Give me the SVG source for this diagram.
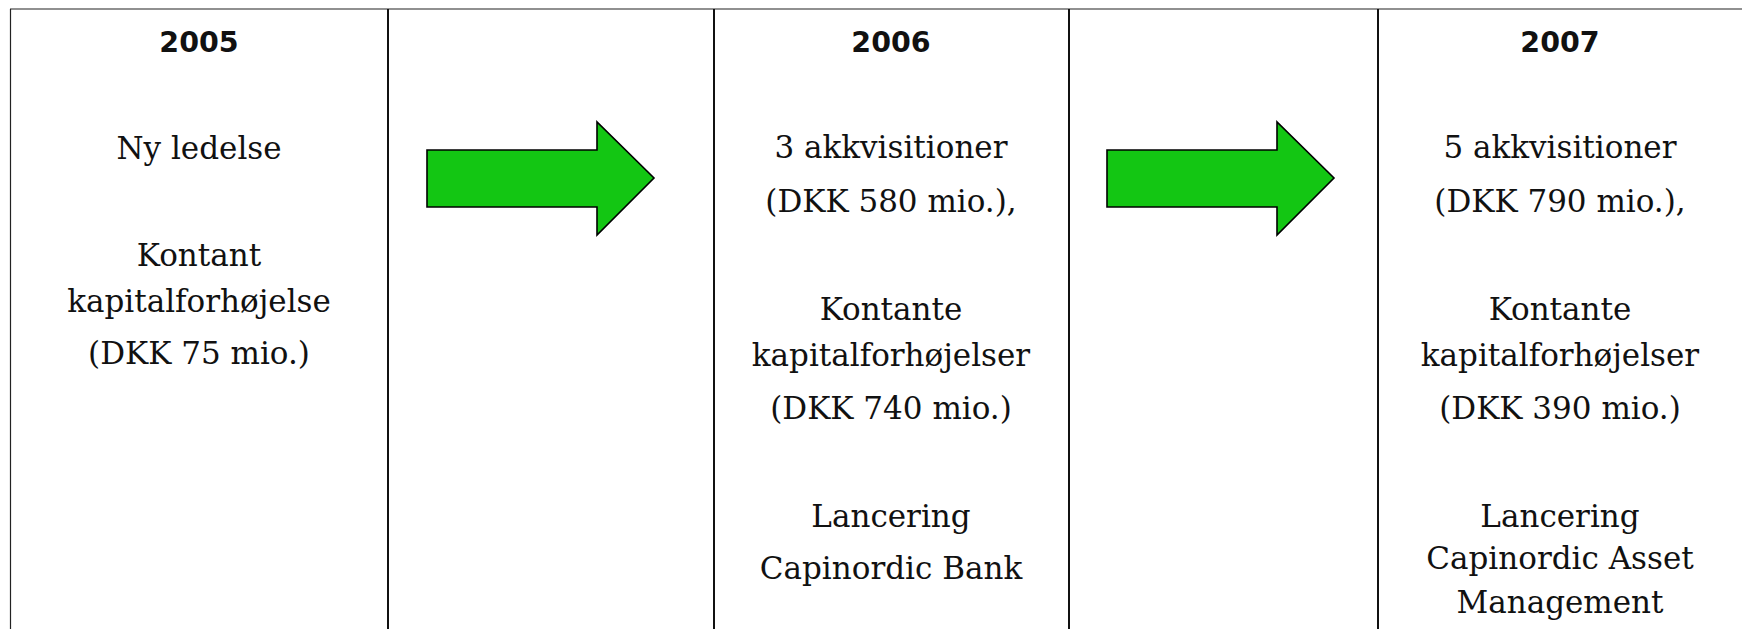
<svg xmlns="http://www.w3.org/2000/svg" width="1742" height="629" viewBox="0 0 1742 629">
<style>
.bg{fill:#ffffff}
.thin{stroke:#222;stroke-width:1.2;fill:none}
.sep{stroke:#111;stroke-width:2;fill:none}
.arrow{fill:#13c613;stroke:#000;stroke-width:1.6;stroke-linejoin:miter}
.t{font-family:"DejaVu Serif",serif;font-size:31px;fill:#111;text-anchor:middle}
.h{font-family:"DejaVu Sans",sans-serif;font-weight:bold;font-size:28.5px;fill:#111;text-anchor:middle}
</style>
<rect class="bg" x="0" y="0" width="1742" height="629"/>
<g id="grid">
<line class="thin" x1="10" y1="9" x2="1742" y2="9"/>
<line class="thin" x1="10.5" y1="9" x2="10.5" y2="629"/>
<line class="sep" x1="388" y1="9" x2="388" y2="629"/>
<line class="sep" x1="714" y1="9" x2="714" y2="629"/>
<line class="sep" x1="1069" y1="9" x2="1069" y2="629"/>
<line class="sep" x1="1378" y1="9" x2="1378" y2="629"/>
</g>
<g id="col2005">
<text class="h" x="199" y="52">2005</text>
<text class="t" x="199" y="159">Ny ledelse</text>
<text class="t" x="199" y="266">Kontant</text>
<text class="t" x="199" y="312">kapitalforhøjelse</text>
<text class="t" x="199" y="364">(DKK 75 mio.)</text>
</g>
<g id="col2006">
<text class="h" x="891" y="52">2006</text>
<text class="t" x="891" y="158">3 akkvisitioner</text>
<text class="t" x="891" y="212">(DKK 580 mio.),</text>
<text class="t" x="891" y="320">Kontante</text>
<text class="t" x="891" y="366">kapitalforhøjelser</text>
<text class="t" x="891" y="419">(DKK 740 mio.)</text>
<text class="t" x="891" y="527">Lancering</text>
<text class="t" x="891" y="579">Capinordic Bank</text>
</g>
<g id="col2007">
<text class="h" x="1560" y="52">2007</text>
<text class="t" x="1560" y="158">5 akkvisitioner</text>
<text class="t" x="1560" y="212">(DKK 790 mio.),</text>
<text class="t" x="1560" y="320">Kontante</text>
<text class="t" x="1560" y="366">kapitalforhøjelser</text>
<text class="t" x="1560" y="419">(DKK 390 mio.)</text>
<text class="t" x="1560" y="527">Lancering</text>
<text class="t" x="1560" y="569">Capinordic Asset</text>
<text class="t" x="1560" y="613">Management</text>
</g>
<g id="connectors">
<polygon class="arrow" points="427,150 597,150 597,122 654,178 597,235 597,207 427,207"/>
<polygon class="arrow" points="1107,150 1277,150 1277,122 1334,178 1277,235 1277,207 1107,207"/>
</g>
</svg>
